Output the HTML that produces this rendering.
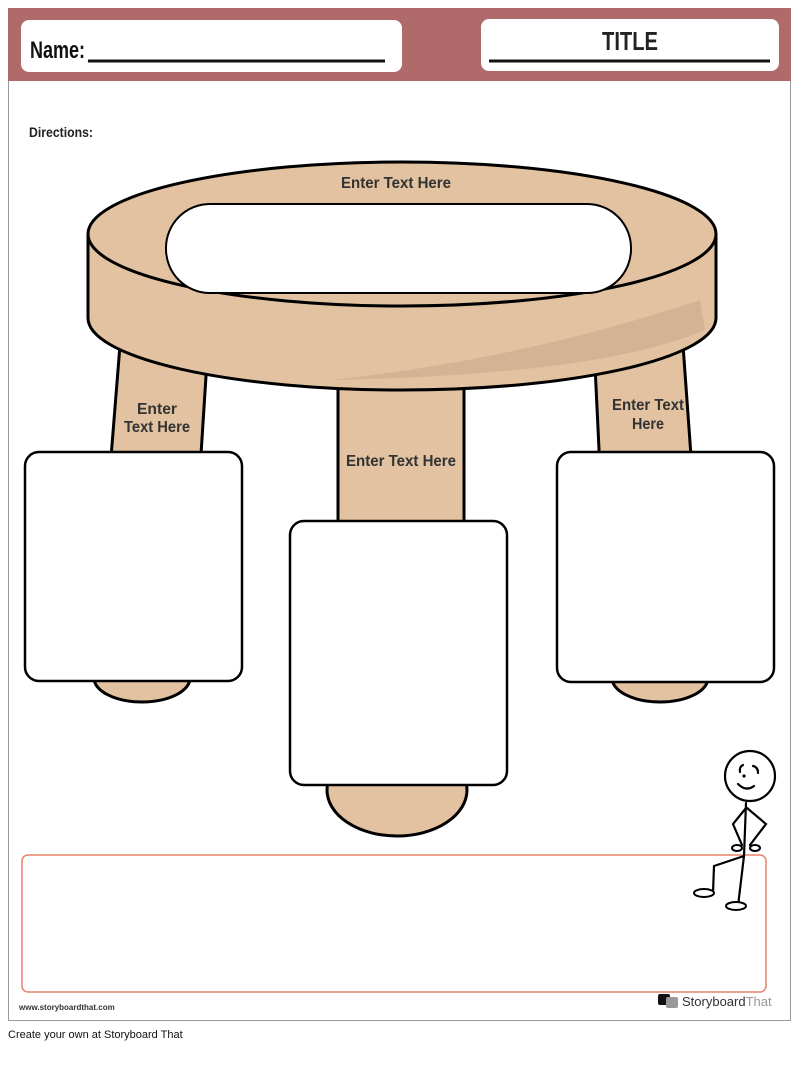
<!DOCTYPE html>
<html><head><style>
body{margin:0;background:#fff;width:800px;height:1079px;overflow:hidden;font-family:"Liberation Sans",sans-serif}
</style></head><body>
<svg width="800" height="1079" viewBox="0 0 800 1079" xmlns="http://www.w3.org/2000/svg">
<rect x="8.5" y="8.5" width="782" height="1012" fill="#fff" stroke="#999" stroke-width="1"/>
<rect x="8" y="8" width="783" height="73" fill="#b06a6a"/>
<rect x="21" y="20" width="381" height="52" rx="8" fill="#fff"/>
<rect x="481" y="19" width="298" height="52" rx="8" fill="#fff"/>
<text x="30" y="58" font-size="24" font-weight="bold" fill="#111" textLength="55" lengthAdjust="spacingAndGlyphs">Name:</text>
<line x1="88" y1="61" x2="385" y2="61" stroke="#111" stroke-width="3"/>
<text x="630" y="50" font-size="26" font-weight="bold" fill="#222" text-anchor="middle" textLength="56" lengthAdjust="spacingAndGlyphs">TITLE</text>
<line x1="489" y1="61" x2="770" y2="61" stroke="#111" stroke-width="3"/>
<text x="29" y="137" font-size="14" font-weight="bold" fill="#222" textLength="64" lengthAdjust="spacingAndGlyphs">Directions:</text>
<!-- legs -->
<polygon points="120,345 208,345 200,470 110,470" fill="#e2c2a0" stroke="#000" stroke-width="3"/>
<polygon points="594,345 683,345 692,470 600,470" fill="#e2c2a0" stroke="#000" stroke-width="3"/>
<rect x="338" y="380" width="126" height="150" fill="#e2c2a0" stroke="#000" stroke-width="3"/>
<ellipse cx="142" cy="678" rx="48" ry="24" fill="#e2c2a0" stroke="#000" stroke-width="3"/>
<ellipse cx="660" cy="678" rx="48" ry="24" fill="#e2c2a0" stroke="#000" stroke-width="3"/>
<ellipse cx="397" cy="790" rx="70" ry="46" fill="#e2c2a0" stroke="#000" stroke-width="3"/>
<!-- stool top -->
<path d="M88,235 L88,318 A314,72 0 0 0 716,318 L716,235 Z" fill="#e2c2a0" stroke="#000" stroke-width="3"/>
<path d="M330,380 Q520,360 700,300 L705,330 Q600,375 330,380Z" fill="#d3b394"/>
<ellipse cx="402" cy="234" rx="314" ry="72" fill="#e2c2a0" stroke="#000" stroke-width="3"/>
<rect x="166" y="204" width="465" height="89" rx="44" fill="#fff" stroke="#000" stroke-width="2"/>
<g font-size="16" font-weight="bold" fill="#333" text-anchor="middle">
<text x="396" y="188" textLength="110" lengthAdjust="spacingAndGlyphs">Enter Text Here</text>
<text x="157" y="414" textLength="40" lengthAdjust="spacingAndGlyphs">Enter</text><text x="157" y="432" textLength="66" lengthAdjust="spacingAndGlyphs">Text Here</text>
<text x="401" y="466" textLength="110" lengthAdjust="spacingAndGlyphs">Enter Text Here</text>
<text x="648" y="410" textLength="72" lengthAdjust="spacingAndGlyphs">Enter Text</text><text x="648" y="429" textLength="32" lengthAdjust="spacingAndGlyphs">Here</text>
</g>
<rect x="25" y="452" width="217" height="229" rx="14" fill="#fff" stroke="#000" stroke-width="2.5"/>
<rect x="290" y="521" width="217" height="264" rx="14" fill="#fff" stroke="#000" stroke-width="2.5"/>
<rect x="557" y="452" width="217" height="230" rx="14" fill="#fff" stroke="#000" stroke-width="2.5"/>
<rect x="22" y="855" width="744" height="137" rx="6" fill="none" stroke="#e8826a" stroke-width="1.5"/>
<!-- stick figure -->
<g fill="none" stroke="#000" stroke-width="2.2" stroke-linecap="round">
<circle cx="750" cy="776" r="25"/>
<path d="M738,784 Q746,792 754,786"/>
<path d="M743,765 Q739,767 740,772"/>
<path d="M753,766 Q758,767 758,773"/>
<path d="M746,803 L744,856 M746,808 L733,824 L742,845 M747,808 L766,824 L750,845"/>
<path d="M744,856 L714,866 L713,893 M744,856 L738,906"/>
</g>
<circle cx="744" cy="776" r="1.6" fill="#000"/>
<ellipse cx="704" cy="893" rx="10" ry="4" fill="#fff" stroke="#000" stroke-width="2"/>
<ellipse cx="736" cy="906" rx="10" ry="4" fill="#fff" stroke="#000" stroke-width="2"/>
<ellipse cx="737" cy="848" rx="5" ry="3" fill="#fff" stroke="#000" stroke-width="2"/>
<ellipse cx="755" cy="848" rx="5" ry="3" fill="#fff" stroke="#000" stroke-width="2"/>
<text x="19" y="1010" font-size="8" font-weight="bold" fill="#333">www.storyboardthat.com</text>
<rect x="658" y="994" width="12" height="11" rx="2" fill="#111"/>
<rect x="666" y="997" width="12" height="11" rx="2" fill="#999"/>
<text x="682" y="1006" font-size="13" fill="#333">Storyboard<tspan fill="#999">That</tspan></text>
<text x="8" y="1038" font-size="11" fill="#111">Create your own at Storyboard That</text>
</svg>
</body></html>
